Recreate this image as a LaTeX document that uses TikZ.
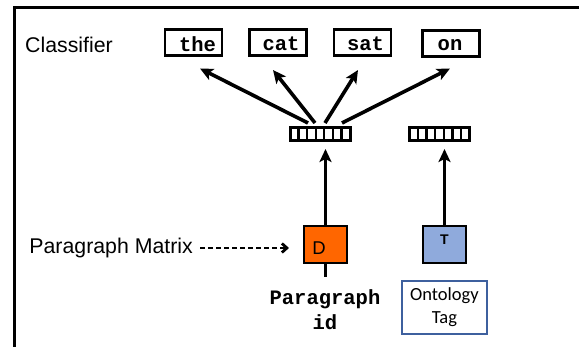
\documentclass[tikz,border=0pt]{standalone}
\usepackage{fontspec}
\setmainfont{Liberation Sans}
\newfontfamily\codefont{Liberation Mono}
\newfontfamily\tagfont{Carlito}
\usetikzlibrary{arrows.meta,calc}

\definecolor{docorange}{RGB}{255,102,0}
\definecolor{tagblue}{RGB}{143,170,220}
\definecolor{tagframe}{RGB}{62,96,158}

\begin{document}
\begin{tikzpicture}[x=1pt,y=-1pt,
  wordbox/.style={draw, line width=2.4pt, minimum width=57pt, minimum height=26pt, inner sep=0pt, outer sep=0pt},
  wordtxt/.style={font=\codefont\bfseries\fontsize{20.5}{22}\selectfont, inner sep=0pt},
  vecbox/.style={draw, line width=3pt, minimum width=60pt, minimum height=13pt, inner sep=0pt, outer sep=0pt},
  cell/.style={line width=2.4pt},
  conn/.style={line width=3.6pt, -{Stealth[length=13pt,width=12pt,inset=3pt]}},
  stub/.style={line width=3.4pt},
  label/.style={font=\fontsize{21.3}{24}\selectfont, inner sep=0pt},
  inbox/.style={draw, line width=2pt, minimum width=43pt, minimum height=37pt, inner sep=0pt, outer sep=0pt},
]
\useasboundingbox (0,0) rectangle (579,347);

% open frame along the top and left
\draw[line width=3pt] (14,347) -- (14,8) -- (579,8);

% classifier output words
\node[label, anchor=west] (cls) at (25,45) {Classifier};
\node[wordbox] (w1) at (193.5,42.5) {};
\node[wordbox] (w2) at (278,42.5) {};
\node[wordbox] (w3) at (362.5,42.5) {};
\node[wordbox] (w4) at (451,43.5) {};
\node[wordtxt] (t1) at ($(w1.center)+(4,1.5)$) {the};
\node[wordtxt] (t2) at ($(w2.center)+(3,1.5)$) {cat};
\node[wordtxt] (t3) at ($(w3.center)+(3,1.5)$) {sat};
\node[wordtxt] (t4) at ($(w4.center)+(-1,1.5)$) {on};

% hidden-layer vectors
\node[vecbox] (v1) at (320,134.5) {};
\node[vecbox] (v2) at (439.5,134.5) {};
\foreach \v in {v1,v2}
  \foreach \i in {1,...,6}
    \draw[cell] ($(\v.north west)+(\i*60/7,0)$) -- ($(\v.south west)+(\i*60/7,0)$);

% prediction arrows
\draw[conn] ($(v1.north)+(-12,-5)$) -- ($(w1.south)+(6.5,13)$);
\draw[conn] ($(v1.north)+(-5,-5)$) -- ($(w2.south)+(-5,14.5)$);
\draw[conn] ($(v1.north)+(5,-5)$) -- ($(w3.south)+(-4.5,14.5)$);
\draw[conn] ($(v1.north)+(22,-5)$) -- ($(w4.south)+(-1,12)$);

% inputs
\node[inbox, fill=docorange] (D) at (325.5,245) {};
\node[font=\fontsize{18.5}{20}\selectfont, inner sep=0pt] (dlab) at (319,248.5) {D};
\node[inbox, fill=tagblue] (T) at (444.5,245) {};
\node[font=\bfseries\fontsize{14}{16}\selectfont, inner sep=0pt] (tlab) at (444.5,240) {T};

\draw[conn] (D.north) -- ($(D.north |- v1.south)+(0,8)$);
\draw[conn] (T.north) -- ($(T.north |- v2.south)+(0,8)$);
\draw[stub] (D.south) -- ++(0,14);

% labels under the inputs
\node[font=\codefont\bfseries\fontsize{20.5}{25}\selectfont, align=center, inner sep=0pt] (pid) at (325,309.5) {Paragraph\\id};
\node[draw=tagframe, line width=2.2pt, minimum width=85pt, minimum height=53pt, inner sep=0pt,
      font=\tagfont\fontsize{18.5}{23}\selectfont, align=center] (otag) at (444.5,307.5) {Ontology\\Tag};

% paragraph matrix pointer
\node[label, anchor=east] (pm) at (193,248) {Paragraph Matrix};
\draw[line width=2.8pt, dash pattern=on 5pt off 3pt, -{Straight Barb[length=5pt,width=9pt,line width=2.8pt]}]
  ($(pm.east)+(7,0)$) -- ($(D.west |- pm.east)+(-15,0)$);
\end{tikzpicture}
\end{document}
